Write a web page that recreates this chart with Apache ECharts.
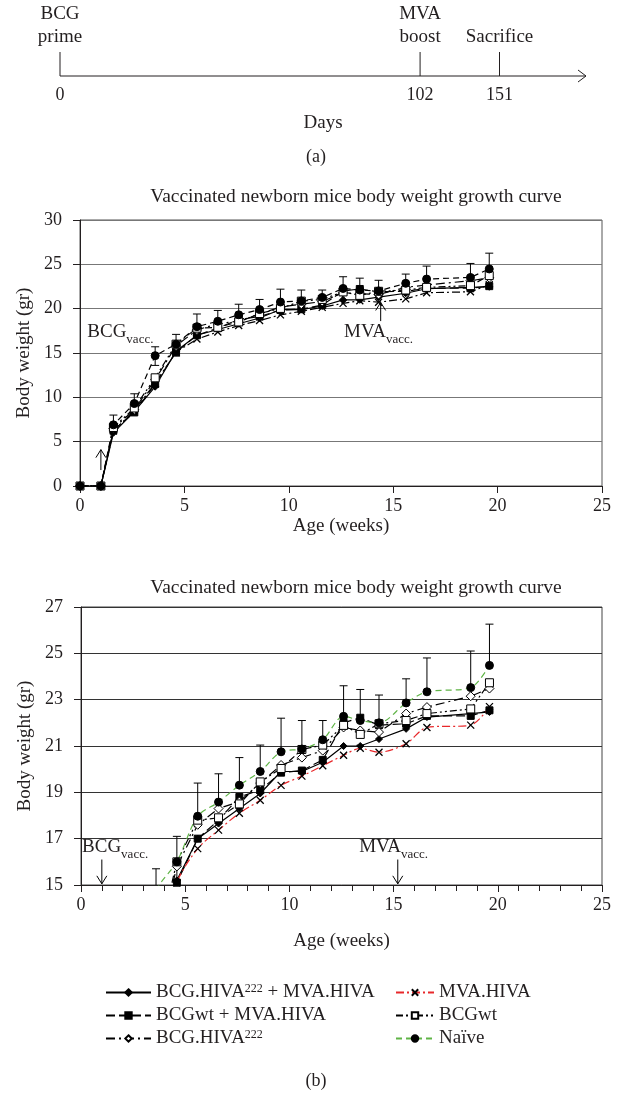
<!DOCTYPE html>
<html><head><meta charset="utf-8">
<script src="https://cdn.jsdelivr.net/npm/echarts@6/dist/echarts.min.js"></script>
<style>html,body{margin:0;padding:0;background:#fff}#c{width:624px;height:1096px}</style>
</head><body><div id="c"></div>
<script>
// ---------- data ----------
const weeks   = [0,1,1.6,2.6,3.6,4.6,5.6,6.6,7.6,8.6,9.6,10.6,11.6,12.6,13.4,14.3,15.6,16.6,18.7,19.6];
const hivaMva = [0,0,6.0,8.4,11.2,15.2,17.0,17.65,18.3,18.95,19.9,19.9,20.3,21.0,21.0,21.3,21.74,22.25,22.4,22.47];
const wtMva   = [0,0,6.3,8.3,11.5,15.1,17.0,17.8,18.8,19.1,19.85,19.94,20.4,22.0,22.22,21.9,21.96,22.3,22.3,22.54];
const hiva    = [0,0,6.5,8.6,12.0,15.8,17.6,18.3,18.6,19.4,20.18,20.5,20.8,21.8,21.67,21.6,22.4,22.68,23.15,23.48];
const mvaHiva = [0,0,6.2,8.5,11.6,15.1,16.57,17.37,18.1,18.66,19.3,19.7,20.15,20.6,20.9,20.73,21.1,21.8,21.9,22.7];
const bcgWt   = [0,0,6.6,8.8,12.2,16.0,17.8,17.9,18.5,19.45,20.03,20.85,21.04,21.89,21.5,21.96,22.1,22.4,22.6,23.73];
const naive   = [0,0,6.9,9.3,14.7,16.0,17.97,18.58,19.31,19.9,20.75,20.87,21.27,22.28,22.1,22.0,22.86,23.34,23.52,24.48];
const errHigh = [null,null,8.0,10.4,15.7,17.1,19.4,19.8,20.5,21.04,22.2,22.1,22.1,23.6,23.44,23.2,23.9,24.8,25.1,26.26];
const errLow  = [null,null,null,null,13.6,14.65,null,null,null,null,null,null,null,null,null,null,null,null,null,null];
const seriesNames = ['BCG.HIVA222 + MVA.HIVA','BCGwt + MVA.HIVA','BCG.HIVA222','MVA.HIVA','BCGwt','Naïve'];
const seriesValues = [hivaMva, wtMva, hiva, mvaHiva, bcgWt, naive];
const xTicks1 = [0,5,10,15,20,25];
const yTicks1 = [0,5,10,15,20,25,30];
const yTicks2 = [15,17,19,21,23,25,27];
// timeline (schematic, not to scale)
const timelineDays   = ['0','102','151'];
const timelineEvents = ['BCG\nprime','MVA\nboost','Sacrifice'];
const timelinePos    = [0,102,124.5];
const timelineEnd    = 149;
// annotations: [week, from, to]
const topArrows = [[1,1.8,4.1],[14.4,18.6,20.7]];
const botArrows = [[1,16.1,15.05],[15.2,16.1,15.05]];
// labels: [week, value, main, align]
const topLabels = [[0.35,17.1,'BCG','left'],[14.3,17.1,'MVA','center']];
const botLabels = [[0.05,16.55,'BCG','left'],[15.0,16.55,'MVA','center']];

// ---------- style ----------
const FONT = 'Liberation Serif';
const TXT = '#231f20';
const RED = '#e8282b';
const GREEN = '#5fb446';
const FS = 18, FT = 19;
const XPATH = 'path://M0,0L10,10M10,0L0,10';
const styles = [
  {symbol:'diamond', size:7, fill:'#000', line:'solid', lc:'#000'},
  {symbol:'rect', size:7, fill:'#000', line:[9,4], lc:'#000'},
  {symbol:'diamond', size:9, fill:'#fff', line:[9,4,2,4], lc:'#000'},
  {symbol:XPATH, size:7, fill:'#000', line:[8,3,2,3], lc:RED, smooth:true},
  {symbol:'rect', size:8, fill:'#fff', line:[7,3,2,3,2,3], lc:'#000'},
  {symbol:'circle', size:8, fill:'#000', line:[6,4], lc:GREEN, smooth:true}
];

function makeLine(idx, gi, colored){
  const st = styles[idx];
  return {
    type:'line', name: seriesNames[idx], xAxisIndex: gi, yAxisIndex: gi,
    data: weeks.map((w,i)=>[w, seriesValues[idx][i]]),
    symbol: st.symbol, symbolSize: st.size, showSymbol:true,
    smooth: colored && st.smooth ? 0.3 : false,
    clip: true, animation:false,
    lineStyle:{color: colored ? st.lc : '#000', width:1.2, type: st.line},
    itemStyle:{color: st.fill, borderColor:'#000', borderWidth: st.symbol===XPATH ? 1.3 : 1},
    z: 3
  };
}

function errSeries(gi){
  const data = weeks.map((w,i)=>{
    if (errHigh[i] == null) return null;
    const base = errLow[i] != null ? errLow[i] : Math.max(...seriesValues.map(a=>a[i]));
    return [w, base, errHigh[i], errLow[i] != null ? 1 : 0];
  }).filter(d=>d);
  return {
    type:'custom', xAxisIndex:gi, yAxisIndex:gi, clip:true, z:2, silent:true,
    encode:{x:0, y:[1,2]}, data,
    renderItem:(params, api)=>{
      const p1 = api.coord([api.value(0), api.value(1)]);
      const p2 = api.coord([api.value(0), api.value(2)]);
      const s = {stroke:'#000', lineWidth:1};
      const ch = [
        {type:'line', shape:{x1:p1[0],y1:p1[1],x2:p2[0],y2:p2[1]}, style:s},
        {type:'line', shape:{x1:p2[0]-4,y1:p2[1],x2:p2[0]+4,y2:p2[1]}, style:s}
      ];
      if (api.value(3)) ch.push({type:'line', shape:{x1:p1[0]-4,y1:p1[1],x2:p1[0]+4,y2:p1[1]}, style:s});
      return {type:'group', children: ch};
    }
  };
}

function arrowSeries(gi, arr){
  return {
    type:'custom', xAxisIndex:gi, yAxisIndex:gi, clip:false, z:4, silent:true,
    data: arr,
    renderItem:(params, api)=>{
      const a = api.coord([api.value(0), api.value(1)]);
      const b = api.coord([api.value(0), api.value(2)]);
      const dir = b[1] < a[1] ? 1 : -1;
      const s = {stroke:'#000', lineWidth:1, fill:'none'};
      return {type:'group', children:[
        {type:'line', shape:{x1:a[0],y1:a[1],x2:b[0],y2:b[1]}, style:s},
        {type:'polyline', shape:{points:[[b[0]-5,b[1]+dir*8],[b[0],b[1]],[b[0]+5,b[1]+dir*8]]}, style:s}
      ]};
    }
  };
}

function labelSeries(gi, arr){
  return {
    type:'custom', xAxisIndex:gi, yAxisIndex:gi, clip:false, z:4, silent:true,
    data: arr.map(d=>[d[0], d[1]]),
    renderItem:(params, api)=>{
      const d = arr[params.dataIndex];
      const p = api.coord([api.value(0), api.value(1)]);
      return {type:'text', style:{
        text:'{m|'+d[2]+'}{s|vacc.}', x:p[0], y:p[1], align:d[3], verticalAlign:'middle',
        rich:{
          m:{fontFamily:FONT, fontSize:FT, fill:TXT, color:TXT, verticalAlign:'bottom', padding:[0,0,4,0]},
          s:{fontFamily:FONT, fontSize:13, fill:TXT, color:TXT, verticalAlign:'bottom'}
        }
      }};
    }
  };
}

const axisTxt = {fontFamily:FONT, fontSize:FS, color:TXT};
const nameTxt = {fontFamily:FONT, fontSize:FT, color:TXT};
const chart = echarts.init(document.getElementById('c'), null, {renderer:'canvas'});

const series = [];
for (let i=0;i<6;i++) series.push(makeLine(i, 2, true));
for (let i=0;i<6;i++) series.push(makeLine(i, 1, false));
series.push(errSeries(1), errSeries(2));
series.push(arrowSeries(1, topArrows), arrowSeries(2, botArrows));
series.push(labelSeries(1, topLabels), labelSeries(2, botLabels));
series.push({
  type:'custom', xAxisIndex:0, yAxisIndex:0, silent:true, clip:false,
  data:[[0, timelineEnd]],
  renderItem:(params, api)=>{
    const a = api.coord([api.value(0), 0]);
    const b = api.coord([api.value(1), 0]);
    const s = {stroke:TXT, lineWidth:1, fill:'none'};
    return {type:'group', children:[
      {type:'line', shape:{x1:a[0],y1:a[1],x2:b[0],y2:b[1]}, style:s},
      {type:'polyline', shape:{points:[[b[0]-8,b[1]-6],[b[0],b[1]],[b[0]-8,b[1]+6]]}, style:s}
    ]};
  }
});
series.push({
  type:'custom', xAxisIndex:0, yAxisIndex:0, silent:true, clip:false,
  data: timelinePos.map(p=>[p,0]),
  renderItem:(params, api)=>{
    const i = params.dataIndex;
    const p = api.coord([api.value(0), 0]);
    return {type:'group', children:[
      {type:'line', shape:{x1:p[0],y1:p[1]-24,x2:p[0],y2:p[1]}, style:{stroke:TXT, lineWidth:1}},
      {type:'text', style:{text:timelineDays[i], x:p[0], y:p[1]+10, align:'center', verticalAlign:'top', fontFamily:FONT, fontSize:FS, fill:TXT}},
      {type:'text', style:{text:timelineEvents[i], x:p[0], y:p[1]-27, align:'center', verticalAlign:'bottom', fontFamily:FONT, fontSize:FT, lineHeight:23, fill:TXT}}
    ]};
  }
});

function valueXAxis(gi, minor){
  return {
    gridIndex:gi, type:'value', min:0, max:25, interval:5,
    axisLine:{show:true, onZero:false, lineStyle:{color:TXT, width:1}},
    axisTick:{show:true, length:7, lineStyle:{color:TXT}},
    minorTick: minor ? {show:true, splitNumber:5, length:6, lineStyle:{color:TXT}} : {show:false},
    axisLabel:{...axisTxt, margin:11, formatter:v=> xTicks1.includes(v) ? String(v) : ''},
    splitLine:{show:false},
    name:'Age (weeks)', nameLocation:'middle', nameGap: gi===1 ? 31 : 47,
    nameTextStyle:{...nameTxt}
  };
}
function valueYAxis(gi, min, max, interval, ticks, gridColor){
  return {
    gridIndex:gi, type:'value', min, max, interval,
    axisLine:{show:true, onZero:false, lineStyle:{color:TXT, width:1}},
    axisTick:{show:true, length:7, lineStyle:{color:TXT}},
    axisLabel:{...axisTxt, margin:18, formatter:v=> ticks.includes(v) ? String(v) : ''},
    splitLine:{show:true, lineStyle:{color:gridColor, width:1.2}},
    name:'Body weight (gr)', nameLocation:'middle', nameGap:41, nameRotate:90,
    nameTextStyle:{...nameTxt}
  };
}

const legendText = {
  fontFamily:FONT, fontSize:FT, color:TXT,
  rich:{sup:{fontFamily:FONT, fontSize:12, color:TXT, verticalAlign:'top'}}
};
const fmt = n => n.replace('222','{sup|222}');

chart.setOption({
  animation:false,
  backgroundColor:'#fff',
  grid:[
    {left:60, top:16, width:526, height:60, show:false},
    {left:80, top:220, width:522, height:266, show:true, borderColor:'#555', borderWidth:1},
    {left:81, top:607, width:521, height:278, show:true, borderColor:'#444', borderWidth:1}
  ],
  xAxis:[
    {gridIndex:0, type:'value', min:0, max:timelineEnd, show:true,
     axisLine:{show:false}, axisTick:{show:false}, axisLabel:{show:false}, splitLine:{show:false},
     name:'Days', nameLocation:'middle', nameGap:38, nameTextStyle:{...nameTxt}},
    valueXAxis(1,false),
    valueXAxis(2,true)
  ],
  yAxis:[
    {gridIndex:0, type:'value', min:0, max:1, show:false},
    valueYAxis(1,0,30,5,yTicks1,'#777'),
    valueYAxis(2,15,27,2,yTicks2,'#333')
  ],
  legend:[
    {left:100, top:978, orient:'vertical', itemWidth:45, itemHeight:8, itemGap:4,
     data:seriesNames.slice(0,3), formatter:fmt, textStyle:legendText, selectedMode:false},
    {left:390, top:978, orient:'vertical', itemWidth:38, itemHeight:8, itemGap:4,
     data:seriesNames.slice(3), formatter:fmt, textStyle:legendText, selectedMode:false}
  ],
  graphic:[
    {type:'text', x:316, y:157, style:{text:'(a)', align:'center', verticalAlign:'middle', fontFamily:FONT, fontSize:FS, fill:TXT}},
    {type:'text', x:356, y:197, style:{text:'Vaccinated newborn mice body weight growth curve', align:'center', verticalAlign:'middle', fontFamily:FONT, fontSize:FT+0.5, fill:TXT}},
    {type:'text', x:356, y:588, style:{text:'Vaccinated newborn mice body weight growth curve', align:'center', verticalAlign:'middle', fontFamily:FONT, fontSize:FT+0.5, fill:TXT}},
    {type:'text', x:316, y:1081, style:{text:'(b)', align:'center', verticalAlign:'middle', fontFamily:FONT, fontSize:FS, fill:TXT}}
  ],
  series
});
</script></body></html>
